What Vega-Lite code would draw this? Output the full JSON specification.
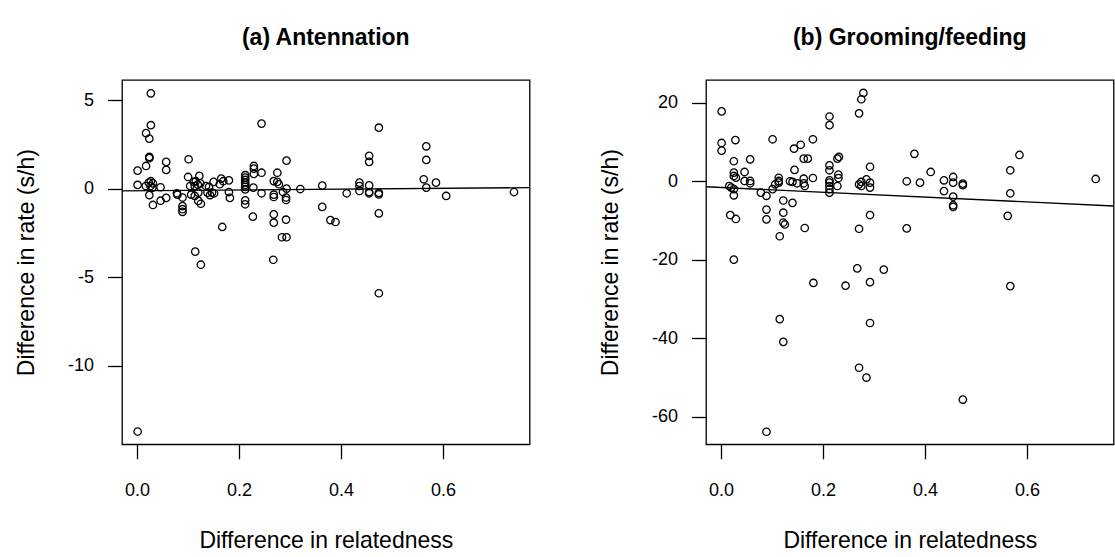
{
  "$schema": "https://vega.github.io/schema/vega-lite/v6.json",
  "background": "white",
  "padding": {"left": 14, "top": 26, "right": 0, "bottom": 0},
  "spacing": 67,
  "config": {
    "font": "Liberation Sans",
    "view": {"stroke": "black", "strokeWidth": 1.3},
    "axis": {
      "domain": false, "grid": false,
      "tickColor": "black", "tickSize": 14.5, "tickWidth": 1.3,
      "labelFont": "Liberation Sans", "labelFontSize": 18, "labelColor": "black",
      "titleFont": "Liberation Sans", "titleFontSize": 23, "titleFontWeight": "normal", "titleColor": "black",
      "labelExpr": "replace(datum.label, '\u2212', '-')"
    },
    "axisX": {"labelPadding": 23, "titlePadding": 30, "labelFlush": false},
    "axisY": {"labelPadding": 14, "titlePadding": 29, "labelAngle": 0},
    "title": {"font": "Liberation Sans", "fontSize": 23, "fontWeight": "bold", "color": "black", "anchor": "middle", "frame": "group", "offset": 30}
  },
  "datasets": {
    "antennation": [
      {"r": 0.027, "d": 5.38}, {"r": 0.027, "d": 3.58}, {"r": 0.0176, "d": 3.13}, {"r": 0.024, "d": 2.82},
      {"r": 0.244, "d": 3.67}, {"r": 0.024, "d": 1.79}, {"r": 0.024, "d": 1.72}, {"r": 0.001, "d": 1.02},
      {"r": 0.0176, "d": 1.28}, {"r": 0.057, "d": 1.51}, {"r": 0.057, "d": 1.06}, {"r": 0.101, "d": 1.66},
      {"r": 0.001, "d": 0.21}, {"r": 0.0228, "d": 0.34}, {"r": 0.027, "d": 0.42}, {"r": 0.031, "d": 0.30},
      {"r": 0.026, "d": 0.15}, {"r": 0.030, "d": 0.06}, {"r": 0.017, "d": 0.15}, {"r": 0.046, "d": 0.08},
      {"r": 0.024, "d": -0.36}, {"r": 0.031, "d": -0.92}, {"r": 0.046, "d": -0.68}, {"r": 0.057, "d": -0.52},
      {"r": 0.078, "d": -0.26}, {"r": 0.079, "d": -0.34}, {"r": 0.089, "d": -0.5}, {"r": 0.089, "d": -0.98},
      {"r": 0.089, "d": -1.16}, {"r": 0.089, "d": -1.31}, {"r": 0.100, "d": 0.66}, {"r": 0.104, "d": 0.15},
      {"r": 0.111, "d": 0.38}, {"r": 0.115, "d": 0.43}, {"r": 0.122, "d": 0.72}, {"r": 0.113, "d": 0.15},
      {"r": 0.119, "d": 0.23}, {"r": 0.124, "d": 0.30}, {"r": 0.106, "d": -0.34}, {"r": 0.113, "d": -0.41},
      {"r": 0.120, "d": -0.22}, {"r": 0.120, "d": -0.69}, {"r": 0.125, "d": -0.85}, {"r": 0.114, "d": -3.55},
      {"r": 0.125, "d": -4.29}, {"r": 0.135, "d": 0.15}, {"r": 0.141, "d": 0.10}, {"r": 0.138, "d": -0.22},
      {"r": 0.143, "d": -0.36}, {"r": 0.147, "d": -0.22}, {"r": 0.151, "d": -0.26}, {"r": 0.150, "d": 0.38},
      {"r": 0.162, "d": 0.25}, {"r": 0.165, "d": 0.57}, {"r": 0.169, "d": 0.42}, {"r": 0.180, "d": 0.47},
      {"r": 0.180, "d": -0.19}, {"r": 0.182, "d": -0.52}, {"r": 0.167, "d": -2.16},
      {"r": 0.212, "d": 0.76}, {"r": 0.212, "d": 0.62}, {"r": 0.212, "d": 0.49}, {"r": 0.212, "d": 0.34},
      {"r": 0.212, "d": 0.21}, {"r": 0.212, "d": 0.10}, {"r": 0.212, "d": -0.04}, {"r": 0.212, "d": -0.66},
      {"r": 0.212, "d": -0.88}, {"r": 0.229, "d": 1.28}, {"r": 0.229, "d": 1.13}, {"r": 0.229, "d": 0.83},
      {"r": 0.244, "d": 0.90}, {"r": 0.228, "d": 0.06}, {"r": 0.244, "d": -0.26}, {"r": 0.227, "d": -1.58},
      {"r": 0.275, "d": 0.90}, {"r": 0.293, "d": 1.58}, {"r": 0.268, "d": 0.43}, {"r": 0.275, "d": 0.38},
      {"r": 0.278, "d": 0.25}, {"r": 0.293, "d": 0.0}, {"r": 0.268, "d": -0.34}, {"r": 0.268, "d": -0.47},
      {"r": 0.286, "d": -0.19}, {"r": 0.292, "d": -0.5}, {"r": 0.292, "d": -0.64}, {"r": 0.268, "d": -1.45},
      {"r": 0.268, "d": -1.92}, {"r": 0.292, "d": -1.75}, {"r": 0.284, "d": -2.74}, {"r": 0.293, "d": -2.74},
      {"r": 0.267, "d": -4.01}, {"r": 0.320, "d": -0.02}, {"r": 0.363, "d": 0.17}, {"r": 0.363, "d": -1.03},
      {"r": 0.379, "d": -1.77}, {"r": 0.389, "d": -1.88}, {"r": 0.411, "d": -0.26}, {"r": 0.436, "d": 0.34},
      {"r": 0.436, "d": 0.15}, {"r": 0.436, "d": -0.13}, {"r": 0.455, "d": 0.19}, {"r": 0.455, "d": -0.19},
      {"r": 0.455, "d": -0.26}, {"r": 0.455, "d": 1.85}, {"r": 0.455, "d": 1.51}, {"r": 0.474, "d": 3.44},
      {"r": 0.474, "d": -0.24}, {"r": 0.474, "d": -0.32}, {"r": 0.474, "d": -1.39}, {"r": 0.474, "d": -5.9},
      {"r": 0.567, "d": 2.39}, {"r": 0.567, "d": 1.62}, {"r": 0.562, "d": 0.53}, {"r": 0.567, "d": 0.06},
      {"r": 0.586, "d": 0.34}, {"r": 0.606, "d": -0.41}, {"r": 0.739, "d": -0.19}, {"r": 0.001, "d": -13.7}
    ],
    "grooming": [
      {"r": 0.001, "d": 17.8}, {"r": 0.001, "d": 9.76}, {"r": 0.001, "d": 7.8}, {"r": 0.028, "d": 10.5},
      {"r": 0.025, "d": 5.1}, {"r": 0.025, "d": 2.2}, {"r": 0.025, "d": 1.35}, {"r": 0.029, "d": 0.92},
      {"r": 0.046, "d": 2.37}, {"r": 0.046, "d": 0.08}, {"r": 0.057, "d": 5.6}, {"r": 0.057, "d": 0.08},
      {"r": 0.057, "d": -0.51}, {"r": 0.016, "d": -1.2}, {"r": 0.020, "d": -1.6}, {"r": 0.025, "d": -2.0},
      {"r": 0.025, "d": -3.57}, {"r": 0.018, "d": -8.6}, {"r": 0.029, "d": -9.6}, {"r": 0.025, "d": -19.97},
      {"r": 0.078, "d": -2.9}, {"r": 0.089, "d": -3.7}, {"r": 0.089, "d": -7.2}, {"r": 0.089, "d": -9.7},
      {"r": 0.101, "d": 10.7}, {"r": 0.101, "d": -2.0}, {"r": 0.106, "d": -0.77}, {"r": 0.113, "d": 0.9},
      {"r": 0.113, "d": 0.08}, {"r": 0.113, "d": -0.35}, {"r": 0.122, "d": -4.9}, {"r": 0.122, "d": -8.0},
      {"r": 0.122, "d": -10.5}, {"r": 0.125, "d": -11.0}, {"r": 0.115, "d": -14.0}, {"r": 0.140, "d": -5.5},
      {"r": 0.135, "d": 0.0}, {"r": 0.140, "d": -0.17}, {"r": 0.143, "d": 8.3}, {"r": 0.144, "d": 2.9},
      {"r": 0.149, "d": -0.51}, {"r": 0.156, "d": 9.3}, {"r": 0.162, "d": 5.76}, {"r": 0.170, "d": 5.76},
      {"r": 0.162, "d": 0.66}, {"r": 0.162, "d": -0.51}, {"r": 0.164, "d": -1.2}, {"r": 0.164, "d": -11.9},
      {"r": 0.180, "d": 10.7}, {"r": 0.180, "d": 0.84}, {"r": 0.2125, "d": 16.5}, {"r": 0.2125, "d": 14.3},
      {"r": 0.2125, "d": 4.07}, {"r": 0.2125, "d": 2.8}, {"r": 0.2125, "d": 0.25}, {"r": 0.2125, "d": -0.35},
      {"r": 0.2125, "d": -1.2}, {"r": 0.2125, "d": -2.0}, {"r": 0.2125, "d": -2.9}, {"r": 0.228, "d": 5.76},
      {"r": 0.231, "d": 6.2}, {"r": 0.230, "d": 1.7}, {"r": 0.230, "d": 0.84}, {"r": 0.228, "d": -1.2},
      {"r": 0.279, "d": 22.5}, {"r": 0.275, "d": 20.9}, {"r": 0.2705, "d": 17.3}, {"r": 0.292, "d": 3.7},
      {"r": 0.2705, "d": -0.77}, {"r": 0.275, "d": -0.17}, {"r": 0.275, "d": -1.2}, {"r": 0.285, "d": 0.5},
      {"r": 0.292, "d": -0.35}, {"r": 0.292, "d": -1.6}, {"r": 0.292, "d": -8.6}, {"r": 0.2705, "d": -12.1},
      {"r": 0.267, "d": -22.2}, {"r": 0.319, "d": -22.5}, {"r": 0.364, "d": -12.0}, {"r": 0.364, "d": 0.0},
      {"r": 0.379, "d": 7.0}, {"r": 0.390, "d": -0.35}, {"r": 0.411, "d": 2.37}, {"r": 0.437, "d": 0.25},
      {"r": 0.437, "d": -2.5}, {"r": 0.455, "d": 1.1}, {"r": 0.455, "d": -0.35}, {"r": 0.455, "d": -3.9},
      {"r": 0.455, "d": -6.1}, {"r": 0.455, "d": -6.5}, {"r": 0.474, "d": -0.6}, {"r": 0.474, "d": -1.0},
      {"r": 0.562, "d": -8.8}, {"r": 0.567, "d": 2.8}, {"r": 0.567, "d": -3.06}, {"r": 0.585, "d": 6.7},
      {"r": 0.7345, "d": 0.59}, {"r": 0.181, "d": -25.9}, {"r": 0.244, "d": -26.6}, {"r": 0.292, "d": -25.7},
      {"r": 0.115, "d": -35.1}, {"r": 0.122, "d": -40.9}, {"r": 0.292, "d": -36.1}, {"r": 0.2705, "d": -47.5},
      {"r": 0.285, "d": -50.0}, {"r": 0.089, "d": -63.8}, {"r": 0.567, "d": -26.7}, {"r": 0.474, "d": -55.6}
    ],
    "fit_a": [{"r": -0.0296, "d": -0.13}, {"r": 0.7696, "d": 0.06}],
    "fit_b": [{"r": -0.0296, "d": -1.39}, {"r": 0.7696, "d": -6.3}]
  },
  "hconcat": [
    {
      "title": "(a) Antennation",
      "width": 407.6, "height": 364.3,
      "layer": [
        {
          "data": {"name": "antennation"},
          "mark": {"type": "point", "shape": "circle", "filled": false, "stroke": "black", "strokeWidth": 1.3, "size": 55, "opacity": 1},
          "encoding": {
            "x": {"field": "r", "type": "quantitative", "title": "Difference in relatedness",
                  "scale": {"domain": [-0.0296, 0.7696], "nice": false, "zero": false},
                  "axis": {"values": [0, 0.2, 0.4, 0.6], "format": ".1f"}},
            "y": {"field": "d", "type": "quantitative", "title": "Difference in rate (s/h)",
                  "scale": {"domain": [-14.42, 6.13], "nice": false, "zero": false},
                  "axis": {"values": [-10, -5, 0, 5]}}
          }
        },
        {
          "data": {"name": "fit_a"},
          "mark": {"type": "line", "color": "black", "strokeWidth": 1.3, "clip": true},
          "encoding": {
            "x": {"field": "r", "type": "quantitative"},
            "y": {"field": "d", "type": "quantitative"}
          }
        }
      ]
    },
    {
      "title": "(b) Grooming/feeding",
      "width": 407.6, "height": 364.3,
      "layer": [
        {
          "data": {"name": "grooming"},
          "mark": {"type": "point", "shape": "circle", "filled": false, "stroke": "black", "strokeWidth": 1.3, "size": 55, "opacity": 1},
          "encoding": {
            "x": {"field": "r", "type": "quantitative", "title": "Difference in relatedness",
                  "scale": {"domain": [-0.0296, 0.7696], "nice": false, "zero": false},
                  "axis": {"values": [0, 0.2, 0.4, 0.6], "format": ".1f"}},
            "y": {"field": "d", "type": "quantitative", "title": "Difference in rate (s/h)",
                  "scale": {"domain": [-67.0, 25.8], "nice": false, "zero": false},
                  "axis": {"values": [-60, -40, -20, 0, 20]}}
          }
        },
        {
          "data": {"name": "fit_b"},
          "mark": {"type": "line", "color": "black", "strokeWidth": 1.3, "clip": true},
          "encoding": {
            "x": {"field": "r", "type": "quantitative"},
            "y": {"field": "d", "type": "quantitative"}
          }
        }
      ]
    }
  ]
}
